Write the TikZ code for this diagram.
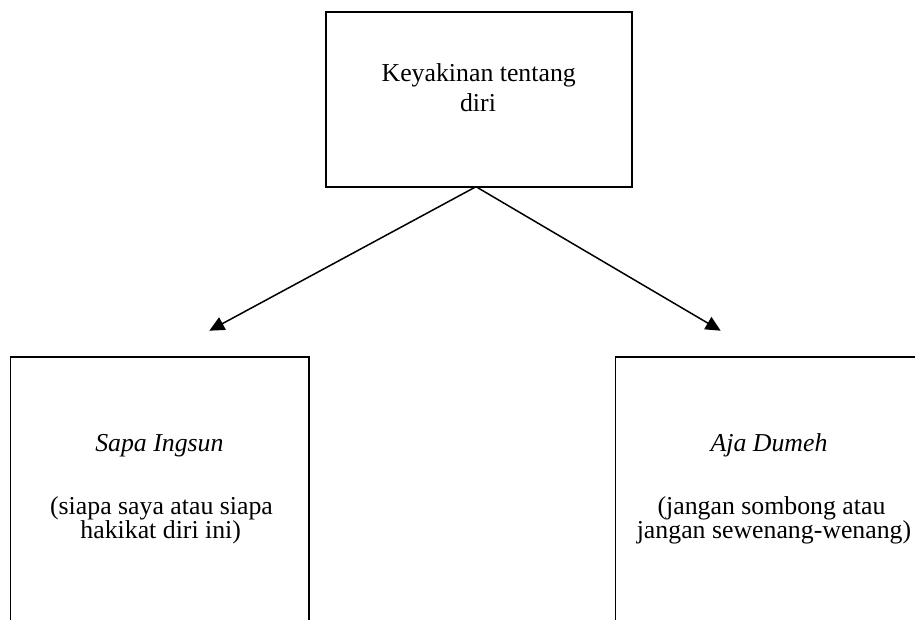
\documentclass[tikz,border=0pt]{standalone}
\usepackage{fontspec}
\setmainfont{Liberation Serif}
\usetikzlibrary{arrows.meta}
\begin{document}
\begin{tikzpicture}[x=1pt,y=-1pt,
  boxstyle/.style={draw=black,line width=1.7pt,rectangle,inner sep=0pt,outer sep=0pt},
  txt/.style={inner sep=0pt,anchor=base,font=\fontsize{25.8}{30}\selectfont},
  arr/.style={line width=1.5pt,-{Triangle[length=15pt,width=14pt]}}]
\useasboundingbox[fill=white] (0,0) rectangle (915,619);
% boxes
\node[boxstyle,minimum width=306.3pt,minimum height=174.4pt] (top) at (478.85,99.5) {};
\node[boxstyle,minimum width=298.5pt,minimum height=300pt] (left) at (159.75,507) {};
\node[boxstyle,minimum width=309pt,minimum height=300pt] (right) at (770,507) {};
% texts
\node[txt] (t1) at (478.7,81.7) {Keyakinan tentang};
\node[txt] (t2) at (478,111) {diri};
\node[txt] (l1) at (159.4,451.7) {\itshape Sapa Ingsun};
\node[txt] (l2) at (161.5,514.5) {(siapa saya atau siapa};
\node[txt] (l3) at (160.7,538.5) {hakikat diri ini)};
\node[txt] (r1) at (769,451.7) {\itshape Aja Dumeh};
\node[txt] (r2) at (771.5,514.5) {(jangan sombong atau};
\node[txt] (r3) at (774,538.5) {jangan sewenang-wenang)};
% arrows
\coordinate (ltip) at (209.3,330.7);
\coordinate (rtip) at (720.7,330.7);
\draw[arr] ([xshift=-2.85pt]top.south) -- (ltip);
\draw[arr] ([xshift=-2.85pt]top.south) -- (rtip);
\end{tikzpicture}
\end{document}
